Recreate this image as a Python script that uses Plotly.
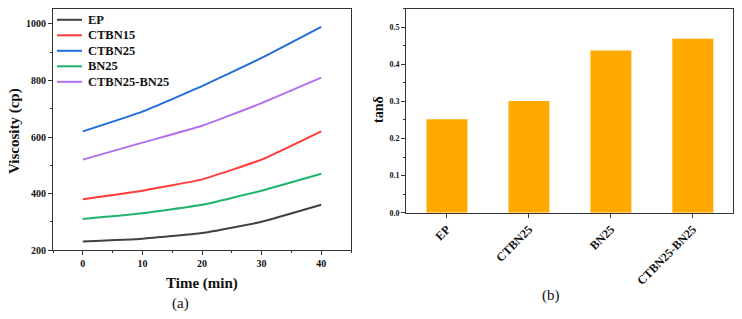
import plotly.graph_objects as go

# ---- data ----
time_min = [0, 10, 20, 30, 40]
series_names = ["EP", "CTBN15", "CTBN25", "BN25", "CTBN25-BN25"]
ep = [230, 240, 260, 300, 360]
ctbn15 = [380, 410, 450, 520, 620]
ctbn25 = [620, 690, 780, 880, 990]
bn25 = [310, 330, 360, 410, 470]
ctbn25_bn25 = [520, 580, 640, 720, 810]
series_values = [ep, ctbn15, ctbn25, bn25, ctbn25_bn25]
series_colors = ["#404040", "#FF3B3B", "#1F6FE0", "#1FB36B", "#B36FF0"]

samples = ["EP", "CTBN25", "BN25", "CTBN25-BN25"]
tan_delta = [0.252, 0.301, 0.437, 0.469]
bar_color = "#FFAA00"

W, H = 742, 319
FONT = "Liberation Serif"


def px(x):
    return x / W


def py(y):
    return 1 - y / H


fig = go.Figure()
for name, vals, col in zip(series_names, series_values, series_colors):
    fig.add_trace(go.Scatter(x=time_min, y=vals, name=name, mode="lines",
                             line=dict(color=col, width=2, shape="spline", smoothing=0.4),
                             xaxis="x", yaxis="y", showlegend=False))

fig.add_trace(go.Bar(x=samples, y=tan_delta, marker=dict(color=bar_color, line=dict(width=0)),
                     width=0.5, xaxis="x2", yaxis="y2", showlegend=False))

axis_common = dict(showline=True, linecolor="#333333", linewidth=1, mirror=True,
                   ticks="outside", ticklen=4, tickcolor="#333333", showgrid=False,
                   zeroline=False, automargin=False)

fig.update_layout(
    width=W, height=H, margin=dict(l=0, r=0, t=0, b=0, autoexpand=False),
    paper_bgcolor="white", plot_bgcolor="white",
    font=dict(family=FONT, color="#111111"),
    xaxis=dict(domain=[px(53), px(351)], range=[-5, 45], dtick=10, tick0=0,
               minor=dict(dtick=5, ticklen=2, ticks="outside", tickcolor="#333333"),
               tickfont=dict(size=10, family=FONT, weight="bold"),
               anchor="y", **axis_common),
    yaxis=dict(domain=[py(250), py(9.3)], range=[200, 1052], dtick=200, tick0=200,
               minor=dict(dtick=100, ticklen=2, ticks="outside", tickcolor="#333333"),
               tickfont=dict(size=10, family=FONT, weight="bold"),
               anchor="x", **axis_common),
    xaxis2=dict(domain=[px(406), px(733)], range=[-0.5, 3.49], type="category",
                tickangle=-45, tickfont=dict(size=12, family=FONT, weight="bold"),
                anchor="y2", **axis_common),
    yaxis2=dict(domain=[py(212.7), py(8.7)], range=[0, 0.55], dtick=0.1, tick0=0,
                tickformat=".1f",
                minor=dict(dtick=0.05, ticklen=2, ticks="outside", tickcolor="#333333"),
                tickfont=dict(size=8, family=FONT, weight="bold"),
                anchor="x2", **axis_common),
)

# manual legend
shapes = []
annotations = []
for i, (name, col) in enumerate(zip(series_names, series_colors)):
    yy = py(19.8 + 15.5 * i)
    shapes.append(dict(type="line", xref="paper", yref="paper", x0=px(57), x1=px(82),
                       y0=yy, y1=yy, line=dict(color=col, width=2)))
    annotations.append(dict(text=name, xref="paper", yref="paper", x=px(86), y=yy,
                            xanchor="left", yanchor="middle", showarrow=False,
                            font=dict(size=12.5, family=FONT, weight="bold", color="#111111")))

title_font = dict(size=15, family=FONT, weight="bold", color="#111111")
annotations.append(dict(text="Time (min)", xref="paper", yref="paper", x=px(202), y=py(283),
                        xanchor="center", yanchor="middle", showarrow=False, font=title_font))
annotations.append(dict(text="Viscosity (cp)", xref="paper", yref="paper", x=px(14), y=py(131),
                        xanchor="center", yanchor="middle", showarrow=False, textangle=-90,
                        font=title_font))
annotations.append(dict(text="tanδ", xref="paper", yref="paper", x=px(378), y=py(110),
                        xanchor="center", yanchor="middle", showarrow=False, textangle=-90,
                        font=dict(size=14, family=FONT, weight="bold", color="#111111")))
annotations.append(dict(text="(a)", xref="paper", yref="paper", x=px(180), y=py(303),
                        xanchor="center", yanchor="middle", showarrow=False,
                        font=dict(size=15, family=FONT, color="#111111")))
annotations.append(dict(text="(b)", xref="paper", yref="paper", x=px(551), y=py(295.5),
                        xanchor="center", yanchor="middle", showarrow=False,
                        font=dict(size=15, family=FONT, color="#111111")))

fig.update_layout(shapes=shapes, annotations=annotations)

fig.write_html("out.html")
